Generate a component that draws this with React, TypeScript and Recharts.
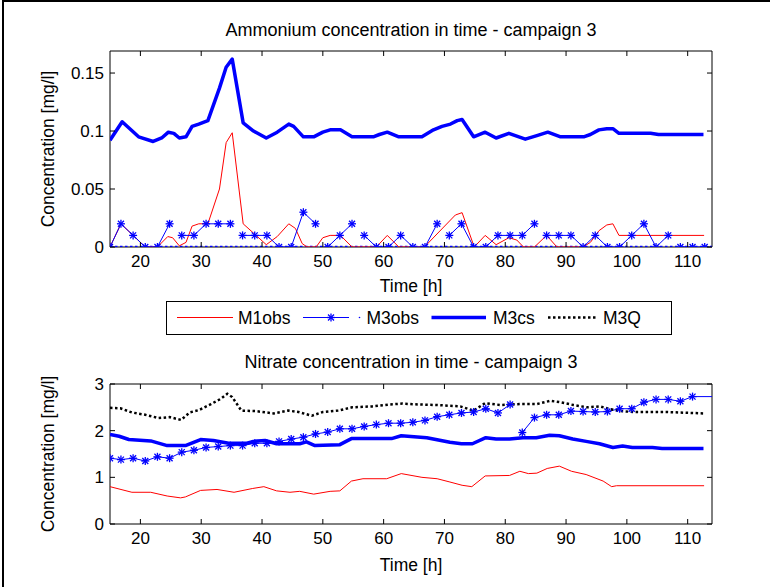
import React from 'react';
import { LineChart, Line, XAxis, YAxis, ReferenceArea } from 'recharts';

const FONT = '"Liberation Sans", Arial, Helvetica, sans-serif';
const BLUE = '#0000ff';
const RED = '#ff0000';
const BLACK = '#000000';

// ---- axes ----
const timeTicks = [20, 30, 40, 50, 60, 70, 80, 90, 100, 110];
const nh4Ticks = [0, 0.05, 0.1, 0.15];
const no3Ticks = [0, 1, 2, 3];
const timeDomain: [number, number] = [15, 114];
const nh4Domain: [number, number] = [0, 0.169];
const no3Domain: [number, number] = [0, 3];

// ---- Ammonium (top) ----
const m1obsNH4Time = [15, 16.8, 18.8, 20.8, 22.8, 24.5, 25.3, 26.4, 27.5, 28.5, 29.6, 31.1, 33.0, 34.1, 35.1, 36.9, 38.6, 40.7, 42.5, 44.4, 45.5, 46.6, 47.4, 48.9, 50.0, 51.2, 52.9, 54.8, 58.8, 60.6, 62.5, 66.7, 71.8, 72.9, 74.9, 76.7, 78.5, 80.6, 81.9, 83.0, 84.8, 86.8, 88.5, 92.8, 94.0, 95.4, 96.7, 97.7, 98.7, 112.7];
const m1obsNH4 = [0, 0.02, 0.01, 0, 0, 0.009, 0.008, 0.001, 0.004, 0.018, 0.02, 0.02, 0.05, 0.09, 0.0985, 0.02, 0.012, 0.002, 0.009, 0.02, 0.016, 0.003, 0, 0, 0.008, 0.01, 0.01, 0, 0, 0.01, 0, 0, 0.0276, 0.0296, 0, 0.01, 0.002, 0.008, 0.006, 0, 0, 0.01, 0, 0, 0.004, 0.014, 0.019, 0.02, 0.01, 0.01];

const m3obsNH4Time = [15, 16.8, 18.8, 20.8, 22.8, 24.8, 25.8, 26.8, 28.8, 30.8, 32.8, 34.8, 35.8, 36.8, 38.8, 40.8, 42.8, 44.8, 46.8, 48.8, 49.8, 50.8, 52.8, 54.8, 55.8, 56.8, 58.8, 60.8, 62.8, 64.8, 66.8, 68.8, 69.8, 70.8, 72.8, 74.8, 76.8, 78.8, 80.8, 82.8, 84.8, 85.8, 86.8, 88.8, 90.8, 92.8, 94.8, 96.8, 98.8, 100.8, 102.8, 104.8, 106.8, 107.8, 108.8, 110.8, 112.8];
const m3obsNH4: (number | null)[] = [0, 0.02, 0.01, 0, 0, 0.02, null, 0.01, 0.01, 0.02, 0.02, 0.02, null, 0.01, 0.01, 0.01, 0, 0, 0.03, 0.02, null, 0, 0.01, 0.02, null, 0.01, 0, 0, 0.01, 0, 0, 0.02, null, 0.01, 0.02, 0, 0, 0.01, 0.01, 0.01, 0.02, null, 0.01, 0.01, 0.01, 0, 0.01, 0, 0, 0.01, 0.02, 0, 0.01, null, 0, 0, 0];

const m3csNH4Time = [15, 17, 19.7, 22.1, 23.5, 24.6, 25.5, 26.4, 27.5, 28.5, 29.6, 31.1, 33.0, 34.1, 35.1, 36.9, 38.6, 40.7, 42.5, 44.4, 45.2, 46.8, 48.5, 50.0, 51.2, 52.9, 54.8, 58.3, 59.3, 60.6, 62.5, 66.3, 68.2, 69.6, 71.0, 72.1, 72.9, 74.8, 76.7, 78.5, 80.6, 83.3, 85.2, 87.0, 89.1, 92.9, 94.0, 95.4, 96.7, 97.7, 98.7, 103.9, 105.2, 112.6];
const m3csNH4 = [0.092, 0.108, 0.095, 0.091, 0.094, 0.099, 0.098, 0.094, 0.095, 0.104, 0.106, 0.109, 0.137, 0.155, 0.162, 0.107, 0.100, 0.094, 0.099, 0.106, 0.104, 0.095, 0.095, 0.099, 0.101, 0.101, 0.095, 0.095, 0.097, 0.099, 0.095, 0.095, 0.101, 0.104, 0.106, 0.109, 0.110, 0.095, 0.099, 0.094, 0.098, 0.093, 0.096, 0.099, 0.095, 0.095, 0.097, 0.101, 0.102, 0.102, 0.098, 0.098, 0.097, 0.097];

const m3qNH4Time = [15, 114];
const m3qNH4 = [0, 0];

// ---- Nitrate (bottom) ----
const m1obsNO3Time = [15, 18.6, 21.7, 24.4, 26.6, 27.4, 29.9, 32.6, 35.4, 38.4, 40.3, 42.4, 44.6, 46.2, 48.5, 51.2, 52.8, 54.7, 56.6, 60.5, 62.9, 66.3, 68.8, 70.9, 72.9, 74.5, 76.7, 80.7, 82.4, 83.8, 85.2, 86.9, 88.9, 90.9, 93.3, 96.1, 97.5, 98.3, 112.7];
const m1obsNO3 = [0.80, 0.68, 0.68, 0.60, 0.56, 0.58, 0.72, 0.74, 0.68, 0.76, 0.80, 0.71, 0.68, 0.70, 0.64, 0.70, 0.71, 0.92, 0.97, 0.97, 1.08, 1.00, 0.97, 0.90, 0.83, 0.80, 1.03, 1.04, 1.13, 1.08, 1.09, 1.19, 1.24, 1.13, 1.06, 0.92, 0.80, 0.82, 0.82];

const m3obsNO3Time = [15, 16.8, 18.8, 20.8, 22.8, 24.8, 26.8, 28.8, 30.8, 32.8, 34.8, 36.8, 38.8, 40.8, 42.8, 44.8, 46.8, 48.8, 50.8, 52.8, 54.8, 56.8, 58.8, 60.8, 62.8, 64.8, 66.8, 68.8, 70.8, 72.8, 74.8, 76.8, 78.8, 80.8, 81.8, 82.8, 84.8, 86.8, 88.8, 90.8, 92.8, 94.8, 96.8, 98.8, 100.8, 102.8, 104.8, 106.8, 108.8, 110.8, 114];
const m3obsNO3: (number | null)[] = [1.41, 1.38, 1.41, 1.35, 1.44, 1.41, 1.54, 1.58, 1.64, 1.66, 1.68, 1.68, 1.73, 1.73, 1.77, 1.82, 1.86, 1.93, 1.97, 2.04, 2.04, 2.09, 2.13, 2.16, 2.16, 2.18, 2.22, 2.30, 2.34, 2.38, 2.40, 2.47, 2.38, 2.56, null, 1.96, 2.28, 2.34, 2.34, 2.42, 2.41, 2.40, 2.41, 2.47, 2.47, 2.61, 2.67, 2.67, 2.63, 2.73, 2.73];

const m3csNO3Time = [15, 16.5, 18.1, 21.7, 24.4, 27.4, 29.9, 32.0, 34.5, 37.5, 38.6, 40.5, 42.4, 46.2, 47.3, 48.7, 52.8, 54.7, 61.3, 62.9, 67.1, 70.9, 72.8, 74.6, 76.8, 78.5, 80.7, 82.9, 85.1, 87.3, 88.9, 91.1, 93.3, 95.5, 97.7, 99.3, 100.9, 104.2, 105.8, 112.6];
const m3csNO3 = [1.92, 1.88, 1.81, 1.78, 1.68, 1.68, 1.81, 1.79, 1.73, 1.73, 1.77, 1.79, 1.72, 1.72, 1.76, 1.68, 1.70, 1.83, 1.83, 1.89, 1.85, 1.75, 1.72, 1.72, 1.85, 1.82, 1.82, 1.85, 1.85, 1.90, 1.89, 1.82, 1.77, 1.72, 1.64, 1.67, 1.64, 1.64, 1.62, 1.62];

const m3qNO3Time = [15, 16.7, 18.6, 20.8, 23.0, 24.8, 26.7, 28.1, 29.6, 31.6, 33.2, 34.3, 35.1, 36.6, 38.9, 41.9, 44.3, 46.0, 48.2, 50.0, 52.6, 54.8, 58.1, 60.9, 63.1, 66.0, 68.8, 72.6, 74.8, 76.7, 79.2, 82.4, 85.2, 87.4, 89.0, 91.2, 93.4, 95.6, 97.3, 98.9, 101.1, 106.5, 112.6];
const m3qNO3 = [2.49, 2.48, 2.39, 2.34, 2.27, 2.29, 2.23, 2.39, 2.44, 2.57, 2.68, 2.79, 2.72, 2.43, 2.42, 2.37, 2.43, 2.40, 2.32, 2.40, 2.43, 2.50, 2.52, 2.56, 2.58, 2.56, 2.55, 2.52, 2.43, 2.59, 2.55, 2.57, 2.57, 2.64, 2.61, 2.55, 2.50, 2.52, 2.46, 2.42, 2.40, 2.40, 2.37];

const legendLabels = ['M1obs', 'M3obs', 'M3cs', 'M3Q'];
const titleNH4 = 'Ammonium concentration in time - campaign 3';
const titleNO3 = 'Nitrate concentration in time - campaign 3';
const xLabel = 'Time [h]';
const yLabel = 'Concentration [mg/l]';

const pairs = (t: number[], v: (number | null)[]) => t.map((x, i) => ({ t: x, v: v[i] }));

// ---- layout ----
const W = 770;
const PLOT_LEFT = 110;
const PLOT_RIGHT = 58;
const PLOT_W = W - PLOT_LEFT - PLOT_RIGHT;

const TOP_H = 300, TOP_MT = 51, TOP_XH = 53;
const TOP_PH = TOP_H - TOP_MT - TOP_XH;
const BOT_Y = 340, BOT_H = 247, BOT_MT = 44, BOT_XH = 63;
const BOT_PH = BOT_H - BOT_MT - BOT_XH;

const TICK_FS = 17;
const LABEL_FS = 17.5;

const makeXTick = (plotH: number) => (p: any) => {
  const { x, y, payload, index } = p;
  return (
    <g key={`xt-${index}`}>
      <line x1={x} x2={x} y1={y} y2={y - 5} stroke={BLACK} strokeWidth={1} />
      <line x1={x} x2={x} y1={y - plotH} y2={y - plotH + 5} stroke={BLACK} strokeWidth={1} />
      <text x={x} y={y + 20} textAnchor="middle" fontSize={TICK_FS} fill={BLACK} fontFamily={FONT}>
        {payload.value}
      </text>
    </g>
  );
};

const makeYTick = (plotW: number) => (p: any) => {
  const { x, y, payload, index } = p;
  return (
    <g key={`yt-${index}`}>
      <line x1={x} x2={x + 5} y1={y} y2={y} stroke={BLACK} strokeWidth={1} />
      <line x1={x + plotW} x2={x + plotW - 5} y1={y} y2={y} stroke={BLACK} strokeWidth={1} />
      <text x={x - 6} y={y + 6} textAnchor="end" fontSize={TICK_FS} fill={BLACK} fontFamily={FONT}>
        {String(payload.value)}
      </text>
    </g>
  );
};

const StarShape = ({ cx, cy }: { cx: number; cy: number }) => {
  const r = 4, d = 3;
  return (
    <g stroke={BLUE} strokeWidth={1.3}>
      <line x1={cx - r} x2={cx + r} y1={cy} y2={cy} />
      <line x1={cx} x2={cx} y1={cy - r} y2={cy + r} />
      <line x1={cx - d} x2={cx + d} y1={cy - d} y2={cy + d} />
      <line x1={cx - d} x2={cx + d} y1={cy + d} y2={cy - d} />
    </g>
  );
};

const starDot = (p: any) => {
  const { cx, cy, index, payload } = p;
  if (cx == null || cy == null || payload == null || payload.v == null || payload.t > 113.5) {
    return <g key={`s-${index}`} />;
  }
  return (
    <g key={`s-${index}`}>
      <StarShape cx={cx} cy={cy} />
    </g>
  );
};

const yLabelProps = {
  value: yLabel,
  angle: -90,
  position: 'insideLeft' as const,
  offset: 48,
  fontSize: LABEL_FS,
  fill: BLACK,
  style: { textAnchor: 'middle' },
};

const Ammonium = () => (
  <LineChart width={W} height={TOP_H} margin={{ top: TOP_MT, right: PLOT_RIGHT, bottom: 0, left: 0 }}>
    <XAxis
      dataKey="t"
      type="number"
      domain={timeDomain}
      allowDataOverflow
      ticks={timeTicks}
      height={TOP_XH}
      axisLine={false}
      tickLine={false}
      tickSize={0}
      tickMargin={0}
      interval={0}
      tick={makeXTick(TOP_PH)}
      label={{ value: xLabel, position: 'insideBottom', offset: 8, fontSize: LABEL_FS, fill: BLACK }}
    />
    <YAxis
      type="number"
      domain={nh4Domain}
      allowDataOverflow
      ticks={nh4Ticks}
      width={PLOT_LEFT}
      axisLine={false}
      tickLine={false}
      tickSize={0}
      tickMargin={0}
      interval={0}
      tick={makeYTick(PLOT_W)}
      label={yLabelProps}
    />
    <Line data={pairs(m3qNH4Time, m3qNH4)} dataKey="v" type="linear" stroke={BLUE} strokeWidth={2.5} strokeDasharray="2.5 2.5" dot={false} activeDot={false} isAnimationActive={false} />
    <Line data={pairs(m1obsNH4Time, m1obsNH4)} dataKey="v" type="linear" stroke={RED} strokeWidth={1} dot={false} activeDot={false} isAnimationActive={false} />
    <Line data={pairs(m3obsNH4Time, m3obsNH4)} dataKey="v" type="linear" stroke={BLUE} strokeWidth={1} dot={starDot} activeDot={false} isAnimationActive={false} />
    <Line data={pairs(m3csNH4Time, m3csNH4)} dataKey="v" type="linear" stroke={BLUE} strokeWidth={3.5} strokeLinejoin="round" dot={false} activeDot={false} isAnimationActive={false} />
    <ReferenceArea x1={timeDomain[0]} x2={timeDomain[1]} y1={nh4Domain[0]} y2={nh4Domain[1]} fill="none" fillOpacity={0} stroke={BLACK} strokeWidth={1} />
  </LineChart>
);

const Nitrate = () => (
  <LineChart width={W} height={BOT_H} margin={{ top: BOT_MT, right: PLOT_RIGHT, bottom: 0, left: 0 }}>
    <XAxis
      dataKey="t"
      type="number"
      domain={timeDomain}
      allowDataOverflow
      ticks={timeTicks}
      height={BOT_XH}
      axisLine={false}
      tickLine={false}
      tickSize={0}
      tickMargin={0}
      interval={0}
      tick={makeXTick(BOT_PH)}
      label={{ value: xLabel, position: 'insideBottom', offset: 16, fontSize: LABEL_FS, fill: BLACK }}
    />
    <YAxis
      type="number"
      domain={no3Domain}
      allowDataOverflow
      ticks={no3Ticks}
      width={PLOT_LEFT}
      axisLine={false}
      tickLine={false}
      tickSize={0}
      tickMargin={0}
      interval={0}
      tick={makeYTick(PLOT_W)}
      label={yLabelProps}
    />
    <Line data={pairs(m1obsNO3Time, m1obsNO3)} dataKey="v" type="linear" stroke={RED} strokeWidth={1} dot={false} activeDot={false} isAnimationActive={false} />
    <Line data={pairs(m3obsNO3Time, m3obsNO3)} dataKey="v" type="linear" stroke={BLUE} strokeWidth={1} dot={starDot} activeDot={false} isAnimationActive={false} />
    <Line data={pairs(m3csNO3Time, m3csNO3)} dataKey="v" type="linear" stroke={BLUE} strokeWidth={3.5} strokeLinejoin="round" dot={false} activeDot={false} isAnimationActive={false} />
    <Line data={pairs(m3qNO3Time, m3qNO3)} dataKey="v" type="linear" stroke={BLACK} strokeWidth={2.5} strokeDasharray="2.5 2.5" dot={false} activeDot={false} isAnimationActive={false} />
    <ReferenceArea x1={timeDomain[0]} x2={timeDomain[1]} y1={no3Domain[0]} y2={no3Domain[1]} fill="none" fillOpacity={0} stroke={BLACK} strokeWidth={1} />
  </LineChart>
);

const Overlay = () => {
  const cx = PLOT_LEFT + PLOT_W / 2;
  const ly = 317.5;
  return (
    <svg width={W} height={587} style={{ position: 'absolute', left: 0, top: 0, pointerEvents: 'none' }} fontFamily={FONT}>
      <line x1={3} y1={0} x2={3} y2={587} stroke={BLACK} strokeWidth={2} />
      <line x1={3} y1={1} x2={770} y2={1} stroke={BLACK} strokeWidth={2} />
      <text x={cx} y={36} textAnchor="middle" fontSize={18} fill={BLACK}>{titleNH4}</text>
      <text x={cx} y={368} textAnchor="middle" fontSize={18} fill={BLACK}>{titleNO3}</text>
      <rect x={166.5} y={301.5} width={505} height={33} fill="#fff" stroke={BLACK} strokeWidth={1} />
      <line x1={177} x2={233} y1={ly} y2={ly} stroke={RED} strokeWidth={1} />
      <text x={238} y={324} fontSize={LABEL_FS} fill={BLACK}>{legendLabels[0]}</text>
      <line x1={303} x2={349} y1={ly} y2={ly} stroke={BLUE} strokeWidth={1} />
      <StarShape cx={331} cy={ly} />
      <circle cx={359.5} cy={ly} r={0.8} fill={BLUE} />
      <text x={366.5} y={324} fontSize={LABEL_FS} fill={BLACK}>{legendLabels[1]}</text>
      <line x1={431.5} x2={486} y1={ly} y2={ly} stroke={BLUE} strokeWidth={3.5} />
      <text x={493} y={324} fontSize={LABEL_FS} fill={BLACK}>{legendLabels[2]}</text>
      <line x1={548} x2={598} y1={ly} y2={ly} stroke={BLACK} strokeWidth={2.5} strokeDasharray="2.5 2.5" />
      <text x={603} y={324} fontSize={LABEL_FS} fill={BLACK}>{legendLabels[3]}</text>
    </svg>
  );
};

export default function App() {
  return (
    <div style={{ position: 'absolute', left: 0, top: 0, width: W, height: 587, background: '#fff', fontFamily: FONT, overflow: 'hidden' }}>
      <div style={{ position: 'absolute', left: 0, top: 0 }}>
        <Ammonium />
      </div>
      <div style={{ position: 'absolute', left: 0, top: BOT_Y }}>
        <Nitrate />
      </div>
      <Overlay />
    </div>
  );
}
